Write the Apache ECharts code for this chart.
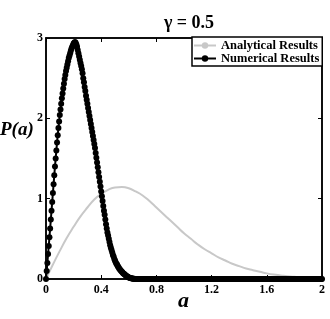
<!DOCTYPE html>
<html>
<head>
<meta charset="utf-8">
<script src="https://cdn.jsdelivr.net/npm/echarts@6/dist/echarts.min.js"></script>
<style>html,body{margin:0;padding:0;background:#fff}#c{width:330px;height:319px}</style>
</head>
<body>
<div id="c"></div>
<script>
// ---- data ----
const titleText = 'γ = 0.5';
const xName = 'a';
const yName = 'P(a)';
const xTicks = [0, 0.4, 0.8, 1.2, 1.6, 2];
const yTicks = [0, 1, 2, 3];
const seriesNames = ['Analytical Results', 'Numerical Results'];

// Analytical curve, sampled every 0.05 in a (0 .. 2)
const anaStep = 0.05;
const anaValues = [
  0, 0.18, 0.35, 0.51, 0.65, 0.78, 0.89, 0.99, 1.06, 1.11,
  1.14, 1.145, 1.13, 1.09, 1.04, 0.97, 0.89, 0.81, 0.73, 0.65,
  0.57, 0.50, 0.43, 0.37, 0.32, 0.27, 0.23, 0.19, 0.16, 0.13,
  0.11, 0.09, 0.07, 0.055, 0.045, 0.035, 0.027, 0.02, 0.015, 0.011,
  0.008
];

// Numerical results, sampled every 0.005 in a (0 .. 2)
const numStep = 0.005;
const numValues = [
  0.00, 0.10, 0.20, 0.31, 0.41, 0.52, 0.63, 0.74, 0.85, 0.96,
  1.07, 1.18, 1.29, 1.40, 1.50, 1.60, 1.70, 1.79, 1.88, 1.96,
  2.04, 2.11, 2.18, 2.25, 2.31, 2.37, 2.43, 2.49, 2.54, 2.59,
  2.63, 2.67, 2.71, 2.75, 2.78, 2.81, 2.84, 2.87, 2.89, 2.91,
  2.93, 2.94, 2.95, 2.94, 2.92, 2.89, 2.85, 2.81, 2.77, 2.73,
  2.69, 2.65, 2.61, 2.56, 2.50, 2.45, 2.39, 2.34, 2.28, 2.23,
  2.18, 2.13, 2.08, 2.03, 1.98, 1.93, 1.88, 1.83, 1.78, 1.73,
  1.68, 1.63, 1.57, 1.51, 1.45, 1.39, 1.33, 1.27, 1.21, 1.15,
  1.09, 1.03, 0.97, 0.91, 0.85, 0.80, 0.74, 0.68, 0.63, 0.58,
  0.54, 0.50, 0.46, 0.42, 0.39, 0.36, 0.33, 0.30, 0.28, 0.25,
  0.23, 0.21, 0.19, 0.18, 0.16, 0.15, 0.13, 0.12, 0.11, 0.10,
  0.09, 0.08, 0.07, 0.065, 0.055, 0.05, 0.04, 0.035, 0.03, 0.025,
  0.02, 0.015, 0.012, 0.01, 0.008, 0.006, 0.004, 0.003, 0.002, 0.001,
  0,
  0,0,0,0,0,0,0,0,0,0,0,0,0,0,0,0,0,0,0,0,0,0,0,0,0,0,0,0,0,0,
  0,0,0,0,0,0,0,0,0,0,0,0,0,0,0,0,0,0,0,0,0,0,0,0,0,0,0,0,0,0,
  0,0,0,0,0,0,0,0,0,0,0,0,0,0,0,0,0,0,0,0,0,0,0,0,0,0,0,0,0,0,
  0,0,0,0,0,0,0,0,0,0,0,0,0,0,0,0,0,0,0,0,0,0,0,0,0,0,0,0,0,0,
  0,0,0,0,0,0,0,0,0,0,0,0,0,0,0,0,0,0,0,0,0,0,0,0,0,0,0,0,0,0,
  0,0,0,0,0,0,0,0,0,0,0,0,0,0,0,0,0,0,0,0,0,0,0,0,0,0,0,0,0,0,
  0,0,0,0,0,0,0,0,0,0,0,0,0,0,0,0,0,0,0,0,0,0,0,0,0,0,0,0,0,0,
  0,0,0,0,0,0,0,0,0,0,0,0,0,0,0,0,0,0,0,0,0,0,0,0,0,0,0,0,0,0,
  0,0,0,0,0,0,0,0,0,0,0,0,0,0,0,0,0,0,0,0,0,0,0,0,0,0,0,0,0,0
];

// ---- chart ----
const FONT = '"Liberation Serif", "Times New Roman", serif';
const anaData = anaValues.map((v, i) => [+(i * anaStep).toFixed(4), v]);
const numData = numValues.map((v, i) => [+(i * numStep).toFixed(4), v]);

const xMin = xTicks[0], xMax = xTicks[xTicks.length - 1], xInt = xTicks[1] - xTicks[0];
const yMin = yTicks[0], yMax = yTicks[yTicks.length - 1], yInt = yTicks[1] - yTicks[0];

function axisLine() { return { show: true, onZero: false, lineStyle: { color: '#000', width: 1.5 } }; }
function tick() { return { show: true, inside: true, length: 4, lineStyle: { color: '#000', width: 1 } }; }
const label = { color: '#000', fontFamily: FONT, fontWeight: 'bold', fontSize: 12 };

const chart = echarts.init(document.getElementById('c'), null, { renderer: 'canvas' });
chart.setOption({
  animation: false,
  backgroundColor: '#fff',
  title: {
    text: titleText,
    left: 184, top: 9, textAlign: 'center',
    textStyle: { fontFamily: FONT, fontWeight: 'bold', fontSize: 18, color: '#000' }
  },
  legend: {
    data: seriesNames,
    orient: 'vertical',
    left: 192, top: 37,
    itemWidth: 22, itemHeight: 8, itemGap: 0,
    padding: [2, 3, 1, 1],
    borderColor: '#000', borderWidth: 1.5, borderRadius: 0,
    backgroundColor: '#fff',
    textStyle: { fontFamily: FONT, fontWeight: 'bold', fontSize: 12.5, color: '#000', lineHeight: 10 }
  },
  grid: {
    left: 46, right: 8, top: 38, bottom: 40, containLabel: false, outerBoundsMode: 'none',
    show: true, borderColor: '#000', borderWidth: 1.5, backgroundColor: 'transparent'
  },
  graphic: [
    {
      type: 'text', left: 0, top: 121, silent: true,
      style: { text: yName, fontFamily: FONT, fontWeight: 'bold', fontStyle: 'italic', fontSize: 19, fill: '#000' }
    },
    {
      type: 'text', left: 178, top: 290, silent: true,
      style: { text: xName, fontFamily: FONT, fontWeight: 'bold', fontStyle: 'italic', fontSize: 22, fill: '#000' }
    }
  ],
  xAxis: [
    {
      type: 'value', position: 'bottom', min: xMin, max: xMax, interval: xInt,
      axisLine: axisLine(), axisTick: tick(), splitLine: { show: false },
      axisLabel: Object.assign({ margin: 5 }, label)
    },
    {
      type: 'value', position: 'top', min: xMin, max: xMax, interval: xInt, show: true,
      axisLine: axisLine(), axisTick: tick(), splitLine: { show: false }, axisLabel: { show: false }
    }
  ],
  yAxis: [
    {
      type: 'value', position: 'left', min: yMin, max: yMax, interval: yInt,
      axisLine: axisLine(), axisTick: tick(), splitLine: { show: false },
      axisLabel: Object.assign({ margin: 3 }, label)
    },
    {
      type: 'value', position: 'right', min: yMin, max: yMax, interval: yInt, show: true,
      axisLine: axisLine(), axisTick: tick(), splitLine: { show: false }, axisLabel: { show: false }
    }
  ],
  series: [
    {
      name: seriesNames[0], type: 'line', xAxisIndex: 0, yAxisIndex: 0,
      data: anaData, smooth: true, symbol: 'none',
      lineStyle: { color: '#c8c8c8', width: 2 }, itemStyle: { color: '#c8c8c8' }
    },
    {
      name: seriesNames[1], type: 'line', xAxisIndex: 0, yAxisIndex: 0,
      data: numData, symbol: 'circle', symbolSize: 6, showSymbol: true, showAllSymbol: true,
      lineStyle: { color: '#000', width: 2 }, itemStyle: { color: '#000' },
      clip: false
    }
  ]
});
</script>
</body>
</html>
